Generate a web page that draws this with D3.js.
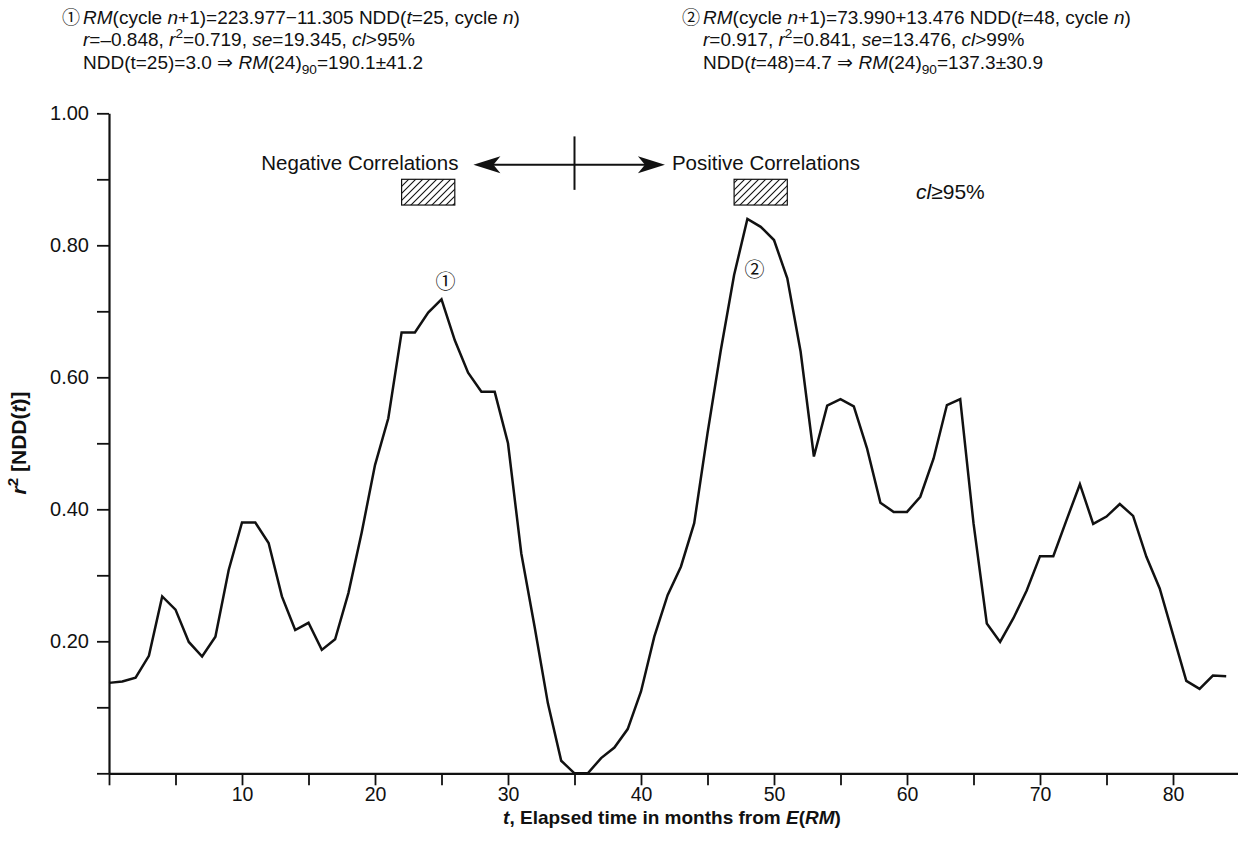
<!DOCTYPE html>
<html>
<head>
<meta charset="utf-8">
<script src="https://cdn.jsdelivr.net/npm/d3@7/dist/d3.min.js"></script>
<style>
  body { margin: 0; background: #fff; }
  svg text { font-family: "Liberation Sans", Arial, Helvetica, sans-serif; fill: #111; }
</style>
</head>
<body>
<div id="chart"></div>
<script>
// r^2 of NDD(t) vs RM of next cycle, one value per month t = 0..84
const months = d3.range(0, 85);
const r2Values = [
  0.137, 0.139, 0.145, 0.178, 0.268, 0.248, 0.199, 0.177, 0.207, 0.308,
  0.380, 0.380, 0.349, 0.268, 0.217, 0.228, 0.187, 0.203, 0.273, 0.365,
  0.467, 0.538, 0.668, 0.668, 0.698, 0.718, 0.656, 0.607, 0.578, 0.578,
  0.500, 0.333, 0.222, 0.106, 0.019, 0.000, 0.000, 0.023, 0.039, 0.067,
  0.124, 0.207, 0.270, 0.313, 0.379, 0.515, 0.641, 0.755, 0.840, 0.828,
  0.808, 0.750, 0.639, 0.480, 0.557, 0.567, 0.556, 0.492, 0.410, 0.396,
  0.396, 0.419, 0.477, 0.558, 0.567, 0.379, 0.227, 0.199, 0.235, 0.277,
  0.329, 0.329, 0.384, 0.438, 0.378, 0.389, 0.408, 0.390, 0.328, 0.280,
  0.210, 0.140, 0.128, 0.148, 0.147
];
const yTicks = [0, 0.1, 0.2, 0.3, 0.4, 0.5, 0.6, 0.7, 0.8, 0.9, 1.0];
const yTickLabels = [0.2, 0.4, 0.6, 0.8, 1.0];
const xTicks = [0, 5, 10, 15, 20, 25, 30, 35, 40, 45, 50, 55, 60, 65, 70, 75, 80, 85];
const xTickLabels = [10, 20, 30, 40, 50, 60, 70, 80];
// months with cl >= 95% (hatched boxes)
const sigRanges = [[22, 26], [47, 51]];

const W = 1238, H = 853;

const svg = d3.select("#chart").append("svg")
  .attr("width", W)
  .attr("height", H);

const x = d3.scaleLinear().domain([0, 85]).range([109, 1239.5]);
const y = d3.scaleLinear().domain([0, 1]).range([773.3, 113.3]);

// hatch pattern
const defs = svg.append("defs");
const pat = defs.append("pattern")
  .attr("id", "hatch")
  .attr("patternUnits", "userSpaceOnUse")
  .attr("width", 7)
  .attr("height", 7);
pat.append("path")
  .attr("d", "M-1.75,1.75 L1.75,-1.75 M0,7 L7,0 M5.25,8.75 L8.75,5.25")
  .attr("stroke", "#111")
  .attr("stroke-width", 1.1);

// rich text helper: parts = [text, kind] kind in i / sup / sub
function rich(sel, parts, size) {
  let shift = 0;
  parts.forEach(([t, k]) => {
    const ts = sel.append("tspan").text(t);
    let target = 0;
    if (k && k.includes("i")) ts.style("font-style", "italic");
    if (k && k.includes("sup")) { target = -0.4 * size; ts.style("font-size", (size * 0.72) + "px"); }
    if (k && k.includes("sub")) { target = 0.3 * size; ts.style("font-size", (size * 0.72) + "px"); }
    if (target !== shift) { ts.attr("dy", target - shift); shift = target; }
  });
  return sel;
}

// Y axis
const yAxis = svg.append("g")
  .attr("transform", `translate(${x(0)},0)`)
  .call(d3.axisLeft(y)
    .tickValues(yTicks)
    .tickSize(12)
    .tickSizeOuter(0)
    .tickPadding(8)
    .tickFormat(d => yTickLabels.some(v => Math.abs(v - d) < 1e-6) ? d3.format(".2f")(d) : ""));

// X axis
const xAxis = svg.append("g")
  .attr("transform", `translate(0,${y(0)})`)
  .call(d3.axisBottom(x)
    .tickValues(xTicks)
    .tickSize(12)
    .tickSizeOuter(0)
    .tickPadding(2)
    .tickFormat(d => xTickLabels.includes(d) ? d : ""));

[yAxis, xAxis].forEach(g => {
  g.select(".domain").attr("stroke", "#111").attr("stroke-width", 2.2);
  g.selectAll(".tick line").attr("stroke", "#111").attr("stroke-width", 1.8);
  g.selectAll(".tick text")
    .attr("fill", "#111")
    .style("font-size", "20px")
    .style("font-family", "\"Liberation Sans\", Arial, sans-serif");
});
xAxis.selectAll(".tick text").style("font-size", "19.5px");

// data line
const line = d3.line()
  .x((d, i) => x(months[i]))
  .y(d => y(d));

svg.append("path")
  .datum(r2Values)
  .attr("d", line)
  .attr("fill", "none")
  .attr("stroke", "#111")
  .attr("stroke-width", 2.5)
  .attr("stroke-linejoin", "miter");

// hatched boxes
svg.selectAll("rect.sig")
  .data(sigRanges)
  .enter()
  .append("rect")
  .attr("class", "sig")
  .attr("x", d => x(d[0]))
  .attr("y", y(0.9))
  .attr("width", d => x(d[1]) - x(d[0]))
  .attr("height", y(0.861) - y(0.9))
  .attr("fill", "url(#hatch)")
  .attr("stroke", "#111")
  .attr("stroke-width", 1.2);

// double arrow
const arrowY = y(0.922);
const xl = x(27.4), xr = x(41.8), xm = x(35);
svg.append("line")
  .attr("x1", xl + 16).attr("x2", xr - 16)
  .attr("y1", arrowY).attr("y2", arrowY)
  .attr("stroke", "#111").attr("stroke-width", 2);
svg.append("line")
  .attr("x1", xm).attr("x2", xm)
  .attr("y1", y(0.965)).attr("y2", y(0.884))
  .attr("stroke", "#111").attr("stroke-width", 2);
svg.append("path")
  .attr("d", `M${xr},${arrowY} L${xr - 27},${arrowY - 8.5} L${xr - 20},${arrowY} L${xr - 27},${arrowY + 8.5} Z`)
  .attr("fill", "#111");
svg.append("path")
  .attr("d", `M${xl},${arrowY} L${xl + 27},${arrowY - 8.5} L${xl + 20},${arrowY} L${xl + 27},${arrowY + 8.5} Z`)
  .attr("fill", "#111");

svg.append("text")
  .attr("x", xl - 15).attr("y", y(0.914))
  .attr("text-anchor", "end")
  .style("font-size", "20.5px")
  .text("Negative Correlations");
svg.append("text")
  .attr("x", xr + 7).attr("y", y(0.914))
  .style("font-size", "20.5px")
  .text("Positive Correlations");

rich(svg.append("text").attr("x", 916).attr("y", 199).style("font-size", "21px"),
  [["cl", "i"], ["\u2265", ""], ["95%", ""]], 21);

// circled peak markers
svg.append("text")
  .attr("x", x(25) + 4).attr("y", y(0.718) - 10)
  .attr("text-anchor", "middle")
  .style("font-family", "\"Noto Sans CJK JP\", \"DejaVu Sans\", sans-serif")
  .style("font-size", "20px")
  .attr("fill", "#333")
  .text("\u2460");
svg.append("text")
  .attr("x", x(48) + 7).attr("y", y(0.84) + 58)
  .attr("text-anchor", "middle")
  .style("font-family", "\"Noto Sans CJK JP\", \"DejaVu Sans\", sans-serif")
  .style("font-size", "20px")
  .attr("fill", "#333")
  .text("\u2461");

// header equations
const hs = 19;
function header(x0, mark, lines) {
  svg.append("text")
    .attr("x", x0).attr("y", 23.5)
    .style("font-family", "\"Noto Sans CJK JP\", \"DejaVu Sans\", sans-serif")
    .style("font-size", "18px")
    .attr("fill", "#333")
    .text(mark);
  lines.forEach((parts, i) => {
    rich(svg.append("text")
      .attr("x", x0 + 21).attr("y", 23.5 + i * 22.5)
      .style("font-size", hs + "px"), parts, hs);
  });
}

header(62, "\u2460", [
  [["RM", "i"], ["(cycle ", ""], ["n", "i"], ["+1)=223.977\u221211.305 NDD(", ""], ["t", "i"], ["=25, cycle ", ""], ["n", "i"], [")", ""]],
  [["r", "i"], ["=\u20130.848, ", ""], ["r", "i"], ["2", "sup"], ["=0.719, ", ""], ["se", "i"], ["=19.345, ", ""], ["cl", "i"], [">95%", ""]],
  [["NDD(t=25)=3.0 \u21d2 ", ""], ["RM", "i"], ["(24)", ""], ["90", "sub"], ["=190.1\u00b141.2", ""]]
]);
header(682, "\u2461", [
  [["RM", "i"], ["(cycle ", ""], ["n", "i"], ["+1)=73.990+13.476 NDD(", ""], ["t", "i"], ["=48, cycle ", ""], ["n", "i"], [")", ""]],
  [["r", "i"], ["=0.917, ", ""], ["r", "i"], ["2", "sup"], ["=0.841, ", ""], ["se", "i"], ["=13.476, ", ""], ["cl", "i"], [">99%", ""]],
  [["NDD(", ""], ["t", "i"], ["=48)=4.7 \u21d2 ", ""], ["RM", "i"], ["(24)", ""], ["90", "sub"], ["=137.3\u00b130.9", ""]]
]);

// axis titles
rich(svg.append("text")
  .attr("x", 672).attr("y", 824)
  .attr("text-anchor", "middle")
  .style("font-size", "19px")
  .style("font-weight", "bold"),
  [["t", "i"], [", Elapsed time in months from ", ""], ["E", "i"], ["(", ""], ["RM", "i"], [")", ""]], 19);

rich(svg.append("text")
  .attr("transform", "translate(26,443) rotate(-90)")
  .attr("text-anchor", "middle")
  .style("font-size", "21px")
  .style("font-weight", "bold"),
  [["r", "i"], ["2", "sup"], [" [NDD(", ""], ["t", "i"], [")]", ""]], 21);
</script>
</body>
</html>
